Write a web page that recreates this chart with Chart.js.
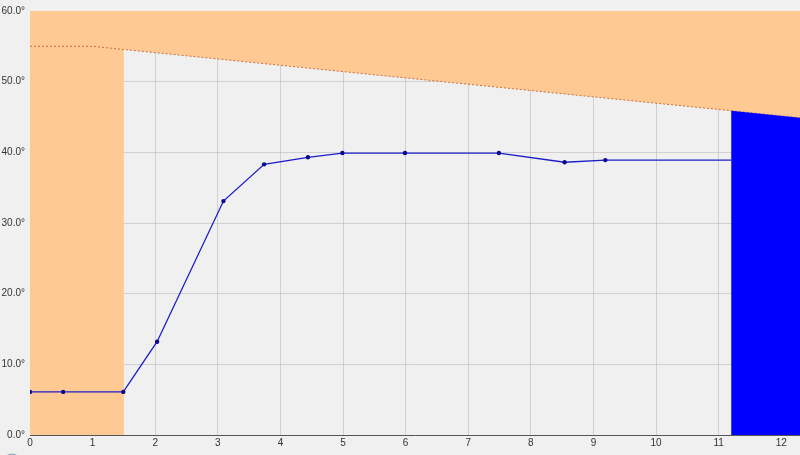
<!DOCTYPE html>
<html>
<head>
    <title>Temperature profile</title>
    <script src="https://cdn.jsdelivr.net/npm/chart.js"></script>
    <style>
        html, body { margin: 0; padding: 0; background: #f0f0f0; }
        #wrap { width: 800px; height: 455px; }
    </style>
</head>
<body>
<div id="wrap"><canvas id="profileChart"></canvas></div>

<script>
// measured curve
const timeX = [0, 0.53, 1.49, 2.03, 3.09, 3.74, 4.44, 4.99, 5.99, 7.49, 8.54, 9.19, 11.2];
const tempY = [6.1, 6.1, 6.1, 13.2, 33.1, 38.3, 39.3, 39.9, 39.9, 39.9, 38.6, 38.9, 38.9];

// upper limit (dotted line, orange above it)
const limitX = [0, 1, 12.3];
const limitY = [55, 55, 44.9];

// left orange block and right blue block
const leftBlockX = [0, 1.5];
const leftBlockY = [60, 60];
const blueBlockX = [11.2, 12.3];
const blueBlockY = [45.9, 44.9];

const xTicks = [0, 1, 2, 3, 4, 5, 6, 7, 8, 9, 10, 11, 12];
const yTicks = [0, 10, 20, 30, 40, 50, 60];

function pts(xs, ys) {
    return xs.map(function(x, i) { return { x: x, y: ys[i] }; });
}

const bgPlugin = {
    id: 'bg',
    beforeDraw: function(chart) {
        const c = chart.ctx;
        c.save();
        c.fillStyle = '#f0f0f0';
        c.fillRect(0, 0, chart.width, chart.height);
        c.restore();
    },
    afterDraw: function(chart) {
        // little round icon cut off at bottom-left
        const c = chart.ctx;
        c.save();
        c.beginPath();
        c.arc(12, 463, 9, 0, Math.PI * 2);
        c.fillStyle = '#dfe6ee';
        c.fill();
        c.strokeStyle = '#8a9db5';
        c.lineWidth = 1;
        c.stroke();
        c.restore();
    }
};

document.addEventListener("DOMContentLoaded", function() {
    const ctx = document.getElementById('profileChart').getContext('2d');

    new Chart(ctx, {
        type: 'line',
        data: {
            datasets: [{
                label: 'limit',
                data: pts(limitX, limitY),
                borderColor: '#c8703a',
                borderWidth: 1,
                borderDash: [2, 2],
                backgroundColor: '#ffc994',
                pointRadius: 0,
                fill: 'end',
                order: 4
            }, {
                label: 'left',
                data: pts(leftBlockX, leftBlockY),
                borderWidth: 0,
                backgroundColor: '#ffc994',
                pointRadius: 0,
                fill: 'origin',
                order: 5
            }, {
                label: 'temp',
                data: pts(timeX, tempY),
                borderColor: '#1c1cc8',
                borderWidth: 1.3,
                backgroundColor: '#0a0a90',
                pointRadius: timeX.map(function(x, i) { return i === timeX.length - 1 ? 0 : 2.2; }),
                pointBorderWidth: 0,
                fill: false,
                tension: 0,
                order: 2
            }, {
                label: 'blue',
                data: pts(blueBlockX, blueBlockY),
                borderWidth: 0,
                backgroundColor: '#0000ff',
                pointRadius: 0,
                fill: 'origin',
                order: 1
            }]
        },
        options: {
            responsive: true,
            maintainAspectRatio: false,
            animation: false,
            layout: { autoPadding: false, padding: { top: 10, right: 0, left: 0, bottom: 0 } },
            plugins: {
                legend: { display: false },
                tooltip: { enabled: false }
            },
            scales: {
                x: {
                    type: 'linear',
                    min: 0,
                    max: 12.3,
                    z: 1,
                    afterBuildTicks: function(scale) {
                        scale.ticks = xTicks.map(function(v) { return { value: v }; });
                    },
                    afterFit: function(scale) { scale.height = 20; },
                    ticks: {
                        padding: 2,
                        maxRotation: 0,
                        autoSkip: false,
                        color: '#333',
                        font: { family: 'Liberation Sans', size: 10 }
                    },
                    grid: { color: 'rgba(190,190,190,0.65)', drawTicks: false },
                    border: { color: '#555', width: 1 }
                },
                y: {
                    min: 0,
                    max: 60,
                    z: 1,
                    afterBuildTicks: function(scale) {
                        scale.ticks = yTicks.map(function(v) { return { value: v }; });
                    },
                    afterFit: function(scale) { scale.width = 30; },
                    ticks: {
                        padding: 5,
                        color: '#333',
                        font: { family: 'Liberation Sans', size: 10 },
                        callback: function(value) { return value.toFixed(1) + '°'; }
                    },
                    grid: { color: 'rgba(190,190,190,0.65)', drawTicks: false },
                    border: { color: '#555', width: 1 }
                }
            }
        },
        plugins: [bgPlugin]
    });
});
</script>

</body>
</html>
